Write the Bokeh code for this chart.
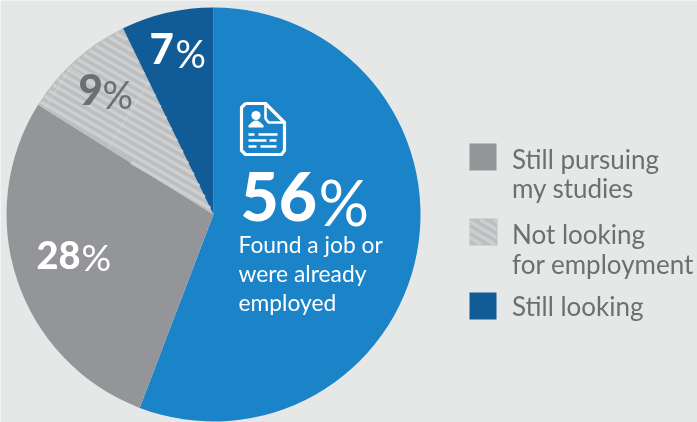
import math
from bokeh.plotting import figure
from bokeh.core.properties import value
from bokeh.embed import file_html
from bokeh.resources import INLINE
from bokeh.models import Range1d

categories = ["Found a job or were already employed", "Still pursuing my studies", "Not looking for employment", "Still looking"]
shares = [55.8, 28.1, 8.9, 7.2]
colors = ["#1b83c8", "#939598", "#bdbec0", "#115c96"]
BG = "#e6e8e7"; TXT = "#6d6e71"; STRIPE = "#cdcfd0"; FONT = "Lato"; HEAVY = "Lato Black"
W, H = 697, 422
CX, CY, R = 213, H - 214, 207

def Y(y): return H - y

p = figure(width=W, height=H, output_backend="svg", toolbar_location=None,
           x_range=Range1d(0, W), y_range=Range1d(0, H), min_border=0,
           background_fill_color=BG, border_fill_color=BG, outline_line_color=None)
p.axis.visible = False
p.grid.visible = False
p.styles = {"position": "fixed", "left": "0", "top": "0"}

# pie
ang = math.pi / 2
bounds = []
for s, c in zip(shares, colors):
    end = ang - s / 100 * 2 * math.pi
    p.wedge(x=CX, y=CY, radius=R, start_angle=ang, end_angle=end, direction="clock",
            fill_color=c, line_color=None)
    bounds.append((ang, end))
    ang = end

# stripes clipped to the "not looking" slice
a0, a1 = bounds[2]
def inside(x, y):
    dx, dy = x - CX, y - CY
    if dx * dx + dy * dy > (R - 1) ** 2: return False
    a = math.atan2(dy, dx)
    if a < 0: a += 2 * math.pi
    lo, hi = sorted((a0 % (2 * math.pi), a1 % (2 * math.pi)))
    return lo + 0.006 <= a <= hi - 0.006

def stripes(x0, x1, y0, y1, test, offs):
    xs, ys = [], []
    slope = -0.58
    for c in offs:
        seg = None
        x = x0
        while x <= x1:
            y = c + slope * x
            if y0 <= y <= y1 and test(x, y):
                if seg is None: seg = [x, y]
                last = (x, y)
            elif seg is not None:
                xs.append([seg[0], last[0]]); ys.append([seg[1], last[1]]); seg = None
            x += 0.25
        if seg is not None:
            xs.append([seg[0], last[0]]); ys.append([seg[1], last[1]])
    return xs, ys

xs, ys = stripes(0, 220, 200, 422, inside, [c for c in range(200, 560, 8)])
p.multi_line(xs, ys, line_color=STRIPE, line_width=3.4)
# faint tile seams
p.multi_line([[70, 45], [70, 132], [148, 108]], [[Y(67), Y(107)], [Y(67), Y(106)], [Y(82), Y(147)]],
             line_color="#e3e4e5", line_width=0.7, line_dash="2 1")

def txt(x, y, s, size, color="#ffffff", style="normal", font=FONT):
    p.text(x=[x], y=[Y(y) + 0.38 * size], text=[s], text_font=value(font), text_font_size=f"{size}px",
           text_color=color, text_font_style=style, text_baseline="alphabetic", text_align="left")

txt(240, 221, "56", 66, font=HEAVY); txt(318, 225, "%", 63)
txt(149, 64, "7", 42, font=HEAVY); txt(175, 67, "%", 38)
txt(78, 105, "9", 42, TXT, font=HEAVY); txt(102, 108, "%", 38, TXT)
txt(36, 269, "28", 38, font=HEAVY); txt(81, 270, "%", 37)
for y, s in zip([252, 281, 310], ["Found a job or", "were already", "employed"]):
    txt(238, y, s, 22.8)
for y, s in zip([168, 197, 243, 273, 315],
                ["Still pursuing", "my studies", "Not looking", "for employment", "Still looking"]):
    txt(511.5, y, s, 26, TXT)

# legend swatches
p.quad(left=[469], right=[496], top=[Y(143)], bottom=[Y(170)], fill_color=colors[1], line_color=None)
p.quad(left=[469], right=[497], top=[Y(218)], bottom=[Y(245)], fill_color=colors[2], line_color=None)
p.quad(left=[469], right=[496], top=[Y(292)], bottom=[Y(319)], fill_color=colors[3], line_color=None)
xs2, ys2 = stripes(469, 497, Y(245) + 1, Y(218) - 1, lambda x, y: True, [c for c in range(Y(245), Y(218) + 400, 8)])
p.multi_line(xs2, ys2, line_color=STRIPE, line_width=3.4)

# document icon
ox = [245, 265, 284, 284, 281, 245, 241, 241, 245]
oy = [103, 103, 122, 150, 154, 154, 150, 107, 103]
p.line(ox, [Y(v) for v in oy], line_color="#ffffff", line_width=3.2, line_join="round")
p.line([265, 265, 268, 284], [Y(103), Y(118), Y(122), Y(122)], line_color="#ffffff", line_width=2.6)
p.circle(x=[255.5], y=[Y(115)], radius=4.6, fill_color="#ffffff", line_color=None)
p.patch([248, 251, 254, 257, 260, 263, 263, 248],
        [Y(v) for v in [125, 122, 120, 120, 122, 125, 127, 127]], fill_color="#ffffff", line_color=None)
ix = [[248, 254], [258, 277], [248, 266], [269, 276], [248, 256], [260, 276]]
iy = [[134, 134], [134, 134], [140, 140], [140, 140], [146, 146], [146, 146]]
p.multi_line(ix, [[Y(a), Y(b)] for a, b in iy], line_color="#ffffff", line_width=2.4)

open("out.html", "w").write(file_html(p, INLINE))
